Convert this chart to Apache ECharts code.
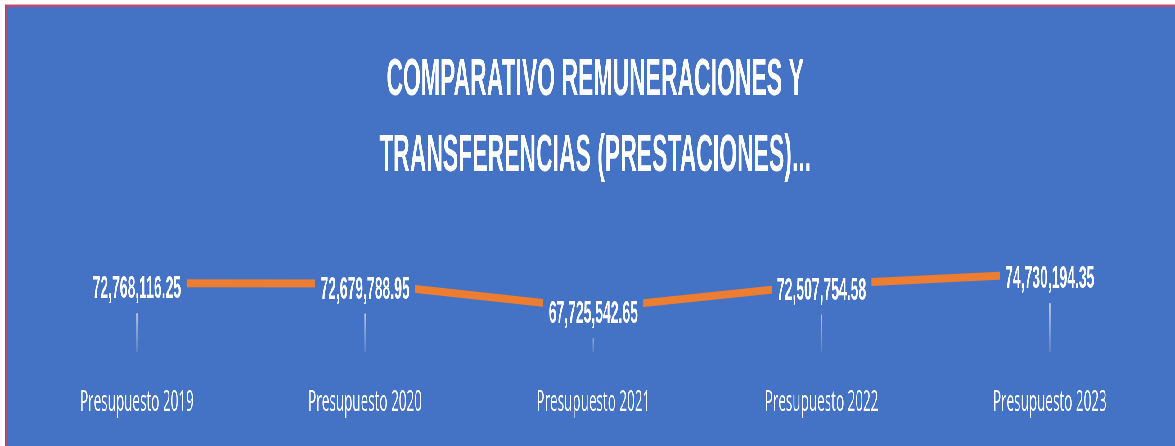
<!DOCTYPE html>
<html>
<head>
<meta charset="utf-8">
<script src="https://cdn.jsdelivr.net/npm/echarts@6/dist/echarts.min.js"></script>
<style>
  html, body { margin: 0; padding: 0; background: #ffffff; overflow: hidden; width: 1175px; height: 446px; }
  .strip { position: absolute; }
  #chart { position: absolute; left: 7px; top: 7px; width: 2596px; height: 439px; transform: scaleX(0.45); transform-origin: 0 0; background: #4472C4; }
</style>
</head>
<body>
<div class="strip" style="left:5px;top:4px;width:1170px;height:1px;background:#f5a3ad"></div>
<div class="strip" style="left:5px;top:5px;width:1170px;height:2px;background:#b94a72"></div>
<div class="strip" style="left:5px;top:5px;width:2px;height:441px;background:#a04b7c"></div>
<div id="chart"></div>
<script>
const titleLines = ['COMPARATIVO REMUNERACIONES Y', 'TRANSFERENCIAS (PRESTACIONES)...'];
const categories = ['Presupuesto 2019', 'Presupuesto 2020', 'Presupuesto 2021', 'Presupuesto 2022', 'Presupuesto 2023'];
const values = [72768116.25, 72679788.95, 67725542.65, 72507754.58, 74730194.35];

const boldFont = "'Liberation Sans', Arial, sans-serif";
const fmt = v => v.toLocaleString('en-US', { minimumFractionDigits: 2, maximumFractionDigits: 2 });

const chart = echarts.init(document.getElementById('chart'), null, { renderer: 'canvas' });
chart.setOption({
  animation: false,
  backgroundColor: '#4472C4',
  title: {
    text: titleLines.join('\n'),
    left: 1307,
    top: 36,
    textAlign: 'center',
    padding: 0,
    textStyle: { color: '#ffffff', fontSize: 51, fontWeight: 'bold', fontFamily: boldFont, lineHeight: 76 }
  },
  grid: { left: 35, right: 25, top: 240, bottom: 94, containLabel: false },
  xAxis: {
    type: 'category',
    data: categories,
    boundaryGap: true,
    axisLine: { show: false },
    axisTick: { show: false },
    splitLine: { show: false },
    axisLabel: { color: '#ffffff', fontSize: 30, lineHeight: 30, fontFamily: "'Open Sans', sans-serif", margin: 35 }
  },
  yAxis: { type: 'value', min: 59e6, max: 80e6, show: false, splitLine: { show: false } },
  series: [
    {
      type: 'bar',
      data: values,
      barWidth: 3,
      z: 1,
      silent: true,
      itemStyle: {
        color: new echarts.graphic.LinearGradient(0, 0, 0, 1, [
          { offset: 0, color: 'rgba(255,255,255,0.95)' },
          { offset: 1, color: 'rgba(255,255,255,0.12)' }
        ])
      }
    },
    {
      type: 'line',
      data: values,
      z: 3,
      symbol: 'circle',
      symbolSize: 1,
      itemStyle: { color: '#4472C4' },
      lineStyle: { color: '#ED7D31', width: 8, cap: 'butt' },
      label: {
        show: true,
        position: 'inside',
        offset: [0, 6.5],
        formatter: p => fmt(p.value),
        color: '#ffffff',
        fontSize: 31,
        lineHeight: 31,
        fontWeight: 'bold',
        fontFamily: boldFont,
        backgroundColor: '#4472C4',
        padding: [4, 12, 12, 12]
      }
    }
  ]
});
</script>
</body>
</html>
